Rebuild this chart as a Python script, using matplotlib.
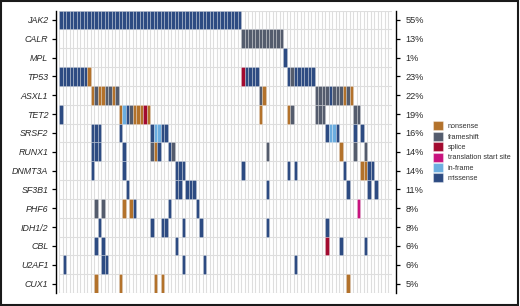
import matplotlib
matplotlib.use("Agg")
import matplotlib.pyplot as plt
from matplotlib.patches import Patch, Rectangle
import numpy as np

plt.rcParams['font.family'] = ['Liberation Sans', 'DejaVu Sans']

n_samples = 95
genes = ['JAK2', 'CALR', 'MPL', 'TP53', 'ASXL1', 'TET2', 'SRSF2', 'RUNX1',
         'DNMT3A', 'SF3B1', 'PHF6', 'IDH1/2', 'CBL', 'U2AF1', 'CUX1']
freq_labels = ['55%', '13%', '1%', '23%', '22%', '19%', '16%', '14%',
               '14%', '11%', '8%', '8%', '6%', '6%', '5%']

# mutation runs per gene: (first sample, last sample, type)
# N nonsense, F frameshift, S splice, T translation start site, I in-frame, M missense
runs = {
    'JAK2': [(0, 51, 'M')],
    'CALR': [(52, 63, 'F')],
    'MPL': [(64, 64, 'M')],
    'TP53': [(0, 7, 'M'), (8, 8, 'N'), (52, 52, 'S'), (53, 56, 'M'),
             (65, 65, 'M'), (66, 66, 'F'), (67, 72, 'M')],
    'ASXL1': [(9, 9, 'N'), (10, 10, 'F'), (11, 12, 'N'), (13, 14, 'F'),
              (15, 15, 'N'), (16, 16, 'F'), (57, 57, 'F'), (58, 58, 'N'),
              (73, 76, 'F'), (77, 77, 'M'), (78, 80, 'F'), (81, 81, 'N'),
              (82, 82, 'F'), (83, 83, 'N')],
    'TET2': [(0, 0, 'M'), (17, 17, 'N'), (18, 18, 'I'), (19, 19, 'M'),
             (20, 20, 'F'), (21, 23, 'N'), (24, 24, 'S'), (25, 25, 'N'),
             (57, 57, 'N'), (65, 65, 'N'), (66, 66, 'F'), (73, 75, 'F'),
             (84, 85, 'F')],
    'SRSF2': [(9, 11, 'M'), (17, 17, 'M'), (26, 26, 'M'), (27, 28, 'I'),
              (29, 30, 'M'), (76, 76, 'M'), (77, 78, 'I'), (79, 79, 'M'),
              (84, 84, 'M'), (86, 86, 'M')],
    'RUNX1': [(9, 11, 'M'), (18, 18, 'M'), (26, 26, 'F'), (27, 27, 'N'),
              (28, 28, 'M'), (31, 31, 'M'), (32, 32, 'F'), (59, 59, 'F'),
              (80, 80, 'N'), (84, 84, 'F'), (87, 87, 'F')],
    'DNMT3A': [(9, 9, 'M'), (18, 18, 'M'), (33, 35, 'M'), (52, 52, 'M'),
               (65, 65, 'M'), (67, 67, 'M'), (81, 81, 'M'), (86, 87, 'N'),
               (88, 89, 'M')],
    'SF3B1': [(19, 19, 'M'), (33, 34, 'M'), (36, 38, 'M'), (59, 59, 'M'),
              (82, 82, 'M'), (88, 88, 'M'), (90, 90, 'M')],
    'PHF6': [(10, 10, 'F'), (12, 12, 'F'), (18, 18, 'N'), (20, 20, 'N'),
             (21, 21, 'M'), (31, 31, 'M'), (39, 39, 'M'), (85, 85, 'T')],
    'IDH1/2': [(11, 11, 'M'), (26, 26, 'M'), (29, 30, 'M'), (35, 35, 'M'),
               (40, 40, 'M'), (59, 59, 'M'), (76, 76, 'M')],
    'CBL': [(10, 10, 'M'), (12, 12, 'M'), (33, 33, 'M'), (76, 76, 'S'),
            (80, 80, 'M'), (87, 87, 'M')],
    'U2AF1': [(1, 1, 'M'), (12, 13, 'M'), (35, 35, 'M'), (41, 41, 'M'),
              (67, 67, 'M')],
    'CUX1': [(10, 10, 'N'), (17, 17, 'N'), (27, 27, 'N'), (29, 29, 'N'),
             (82, 82, 'N')],
}

mut_types = ['N', 'F', 'S', 'T', 'I', 'M']
mut_names = ['nonsense', 'frameshift', 'splice', 'translation start site',
             'in-frame', 'missense']
mut_colors = {'N': '#b3722b', 'F': '#545c6d', 'S': '#a20a2f',
              'T': '#c8137e', 'I': '#6caee0', 'M': '#2d4b82'}

fig = plt.figure(figsize=(5.2, 3.06), dpi=100)
ax = fig.add_axes([59 / 520, 1 - 293 / 306, 333 / 520, 282.5 / 306])
ax2 = ax.twinx()

edge = (1, 1, 1, 0.28)
for row, g in enumerate(genes):
    for start, end, t in runs[g]:
        xs = np.arange(start, end + 1)
        ax.bar(xs, 1.0, bottom=row - 0.5, width=1.0, color=mut_colors[t],
               edgecolor=edge, linewidth=0.7, zorder=3)

ax.set_xlim(-0.5, n_samples - 0.5)
ax.set_ylim(len(genes) - 0.5, -0.5)
ax2.set_ylim(ax.get_ylim())

# background cell grid
ax.set_xticks(np.arange(-0.5, n_samples, 1.0), minor=True)
ax.set_yticks(np.arange(-0.5, len(genes), 1.0), minor=True)
ax.grid(which='minor', color='#dedede', linewidth=0.8, zorder=1)
ax.set_axisbelow(True)
ax.set_xticks([])
ax.tick_params(which='minor', length=0)

ax.set_yticks(range(len(genes)))
ax.set_yticklabels(genes)
ax.tick_params(axis='y', which='major', left=True, labelleft=True, right=False,
               labelright=False, length=3, width=0.9, pad=2.5, color='black',
               labelsize=6.4, labelcolor='#2a2a2a')

for s in ['top', 'bottom', 'right']:
    ax.spines[s].set_visible(False)
ax.spines['left'].set_position(('outward', 2.2))
ax.spines['left'].set_linewidth(1.0)

ax2.set_yticks(range(len(genes)))
ax2.set_yticklabels(freq_labels)
ax2.tick_params(axis='y', length=3, width=0.9, pad=4, color='black',
                labelsize=6.6, labelcolor='#2a2a2a')
for s in ['top', 'bottom', 'left']:
    ax2.spines[s].set_visible(False)
ax2.spines['right'].set_position(('outward', 2.6))
ax2.spines['right'].set_linewidth(1.0)

handles = [Patch(facecolor=mut_colors[t], edgecolor=(1, 1, 1, 0.35), linewidth=0.8,
                 label=name) for t, name in zip(mut_types, mut_names)]
fig.legend(handles=handles, loc='upper left',
           bbox_to_anchor=(432.5 / 520, 1 - 121.5 / 306),
           frameon=False, fontsize=5.2, handlelength=1.5, handleheight=1.5,
           handletextpad=0.6, labelspacing=0.22, borderpad=0, borderaxespad=0,
           labelcolor='#333333')

fig.patches.append(Rectangle((0.001, 0.004), 0.995, 0.993, transform=fig.transFigure,
                             fill=False, edgecolor='#1a1a1a', linewidth=1.5))

# gene names are italic; set after the ticks exist
fig.canvas.draw()
for lab in ax.get_yticklabels():
    lab.set_fontstyle('italic')

fig.savefig('out.png', dpi=100)
